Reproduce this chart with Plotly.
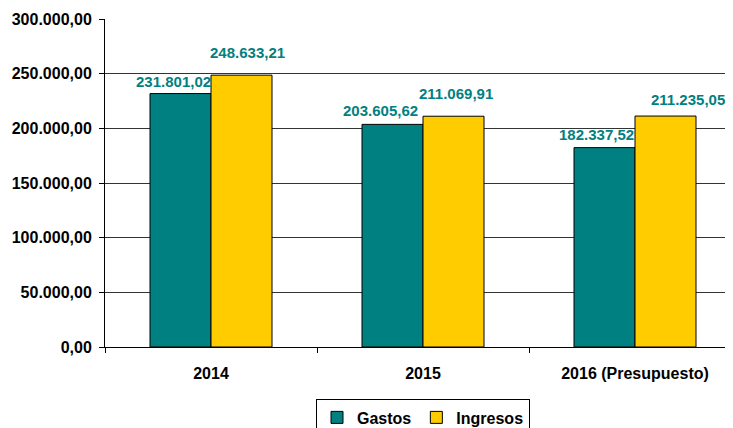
import plotly.graph_objects as go

categories = ["2014", "2015", "2016 (Presupuesto)"]
gastos = [231801.02, 203605.62, 182337.52]
ingresos = [248633.21, 211069.91, 211235.05]
series_names = ["Gastos", "Ingresos"]
colors = ["#008080", "#FFCC00"]

FONT = "Liberation Sans, Arial, sans-serif"

# label placement offsets in px (style only): horizontal offset from bar centre, gap above bar
label_dx = [[-7, -12, -8], [6, 2, 22]]
label_gap = [[6, 7, 7], [16, 16, 10]]
bar_offset = [-30.5, 30.5]


def fmt_es(v):
    return f"{v:,.2f}".replace(",", "X").replace(".", ",").replace("X", ".")


fig = go.Figure()
for name, vals, col in zip(series_names, [gastos, ingresos], colors):
    fig.add_trace(go.Bar(
        x=categories, y=vals, name=name,
        marker=dict(color=col, line=dict(color="#000000", width=1)),
    ))

for s, vals in enumerate([gastos, ingresos]):
    for i, v in enumerate(vals):
        fig.add_annotation(
            x=i, y=v, xref="x", yref="y",
            text=fmt_es(v),
            showarrow=False, xanchor="center", yanchor="bottom",
            xshift=bar_offset[s] + label_dx[s][i], yshift=label_gap[s][i] - 4,
            font=dict(family=FONT, size=15, color="#008080", weight="bold"),
        )

fig.update_layout(
    width=733, height=428,
    margin=dict(l=97, r=0, t=11, b=89, autoexpand=False),
    paper_bgcolor="white", plot_bgcolor="white",
    separators=",.",
    barmode="group", bargap=0.4245, bargroupgap=0,
    font=dict(family=FONT, size=16, color="black"),
    showlegend=True,
    legend=dict(
        orientation="h", x=0.5, xanchor="center", y=-0.16, yanchor="top",
        bordercolor="#000000", borderwidth=1,
        font=dict(family=FONT, size=16, color="black", weight="bold"),
        itemwidth=30, tracegroupgap=0,
    ),
    xaxis=dict(
        range=[-0.5, 2.5], automargin=False,
        showline=True, linecolor="black", linewidth=1,
        ticks="outside", ticklen=5, tickcolor="black",
        tickson="boundaries",
        tickfont=dict(family=FONT, size=16, color="black", weight="bold"),
        ticklabelstandoff=12,
        showgrid=False,
    ),
    yaxis=dict(
        range=[0, 300000], tickvals=[0, 50000, 100000, 150000, 200000, 250000, 300000],
        tickformat=",.2f", automargin=False,
        showline=True, linecolor="black", linewidth=1,
        ticks="outside", ticklen=5, tickcolor="black",
        ticklabelstandoff=4,
        showgrid=True, gridcolor="#333333", gridwidth=1,
        zeroline=False,
        tickfont=dict(family=FONT, size=16, color="black", weight="bold"),
    ),
)

fig.write_html("out.html")
